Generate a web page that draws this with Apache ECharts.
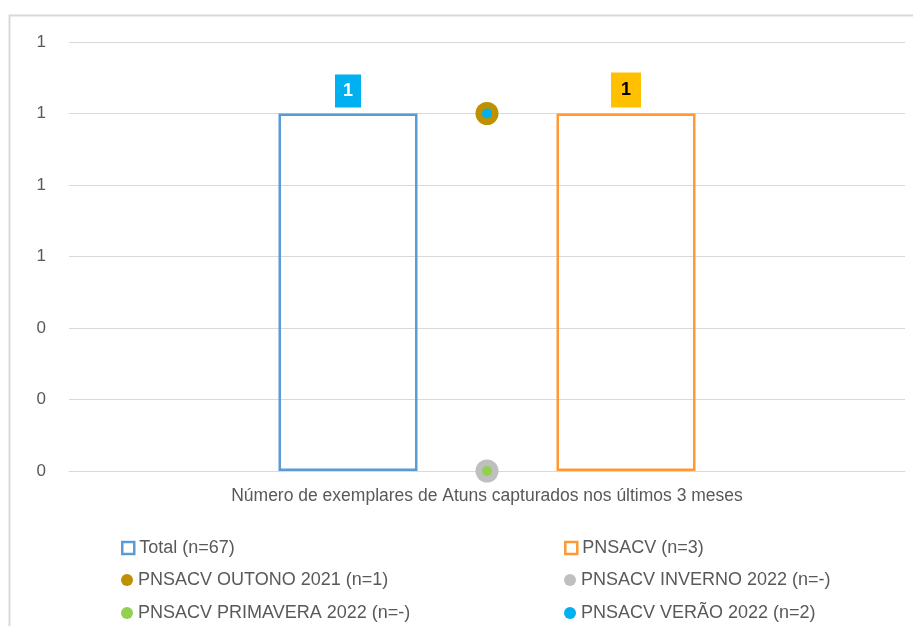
<!DOCTYPE html>
<html><head><meta charset="utf-8">
<script src="https://cdn.jsdelivr.net/npm/echarts@6/dist/echarts.min.js"></script>
<style>html,body{margin:0;padding:0;background:#fff}#c{width:913px;height:626px}</style>
</head><body><div id="c"></div>
<script>
const categories = ['Número de exemplares de Atuns capturados nos últimos 3 meses'];
const totalValues = [1];
const pnsacvValues = [1];
const outono2021 = [1];
const inverno2022 = [0];
const primavera2022 = [0];
const verao2022 = [1];
const yTicks = [0, 0.2, 0.4, 0.6, 0.8, 1, 1.2];

const FONT = '"Liberation Sans", sans-serif';
const chart = echarts.init(document.getElementById('c'));
const legText = {color: '#595959', fontSize: 18, fontFamily: FONT};
function leg(left, top, item) {
  return {left: left, top: top, itemWidth: 12, itemHeight: 12, padding: 0, textStyle: legText, data: [item]};
}
chart.setOption({
  animation: false,
  textStyle: {fontFamily: FONT},
  graphic: [{type: 'rect', shape: {x: 9.5, y: 15.5, width: 920, height: 640}, style: {fill: 'none', stroke: '#d9d9d9', lineWidth: 2}, z: -1}],
  grid: {left: 69, right: 8, top: 42, bottom: 155, containLabel: false},
  xAxis: {type: 'category', data: categories,
    axisLine: {lineStyle: {color: '#d9d9d9', width: 1}}, axisTick: {show: false},
    axisLabel: {color: '#595959', fontSize: 17.5, fontFamily: FONT, margin: 16}},
  yAxis: {type: 'value', min: yTicks[0], max: yTicks[yTicks.length-1], interval: 0.2,
    axisLine: {show: false}, axisTick: {show: false},
    splitLine: {lineStyle: {color: '#d9d9d9'}},
    axisLabel: {color: '#595959', fontSize: 17, fontFamily: FONT, margin: 23, formatter: v => String(Math.round(v))}},
  legend: [
    leg(121, 539, {name: 'Total (n=67)', icon: 'rect', itemStyle: {color: '#fff', borderColor: '#5b9bd5', borderWidth: 2.5}}),
    leg(121, 571, {name: 'PNSACV OUTONO 2021 (n=1)', icon: 'circle'}),
    leg(121, 604, {name: 'PNSACV PRIMAVERA 2022 (n=-)', icon: 'circle'}),
    leg(564, 539, {name: 'PNSACV (n=3)', icon: 'rect', itemStyle: {color: '#fff', borderColor: '#ff9933', borderWidth: 2.5}}),
    leg(564, 571, {name: 'PNSACV INVERNO 2022 (n=-)', icon: 'circle'}),
    leg(564, 604, {name: 'PNSACV VERÃO 2022 (n=2)', icon: 'circle'})
  ],
  series: [
    {name: 'Total (n=67)', type: 'bar', data: totalValues, barWidth: 139, barGap: '100%',
      itemStyle: {color: 'rgba(255,255,255,0)', borderColor: '#5b9bd5', borderWidth: 2.5},
      label: {show: true, position: 'top', distance: 6, formatter: p => String(Math.round(p.value)), color: '#fff', backgroundColor: '#00b0f0',
        fontWeight: 'bold', fontSize: 18, fontFamily: FONT, padding: [8, 8, 7, 8]}},
    {name: 'PNSACV (n=3)', type: 'bar', data: pnsacvValues, barWidth: 139,
      itemStyle: {color: 'rgba(255,255,255,0)', borderColor: '#ff9933', borderWidth: 2.5},
      label: {show: true, position: 'top', distance: 6, formatter: p => String(Math.round(p.value)), color: '#000', backgroundColor: '#ffc000',
        fontWeight: 'bold', fontSize: 18, fontFamily: FONT, padding: [9, 10, 8, 10]}},
    {name: 'PNSACV OUTONO 2021 (n=1)', type: 'scatter', data: outono2021, symbolSize: 23, itemStyle: {color: '#bf9000', opacity: 1}, z: 3},
    {name: 'PNSACV INVERNO 2022 (n=-)', type: 'scatter', data: inverno2022, symbolSize: 23, itemStyle: {color: '#bfbfbf', opacity: 1}, z: 3},
    {name: 'PNSACV PRIMAVERA 2022 (n=-)', type: 'scatter', data: primavera2022, symbolSize: 10, itemStyle: {color: '#92d050', opacity: 1}, z: 4},
    {name: 'PNSACV VERÃO 2022 (n=2)', type: 'scatter', data: verao2022, symbolSize: 10, itemStyle: {color: '#00b0f0', opacity: 1}, z: 4}
  ]
});
</script></body></html>
